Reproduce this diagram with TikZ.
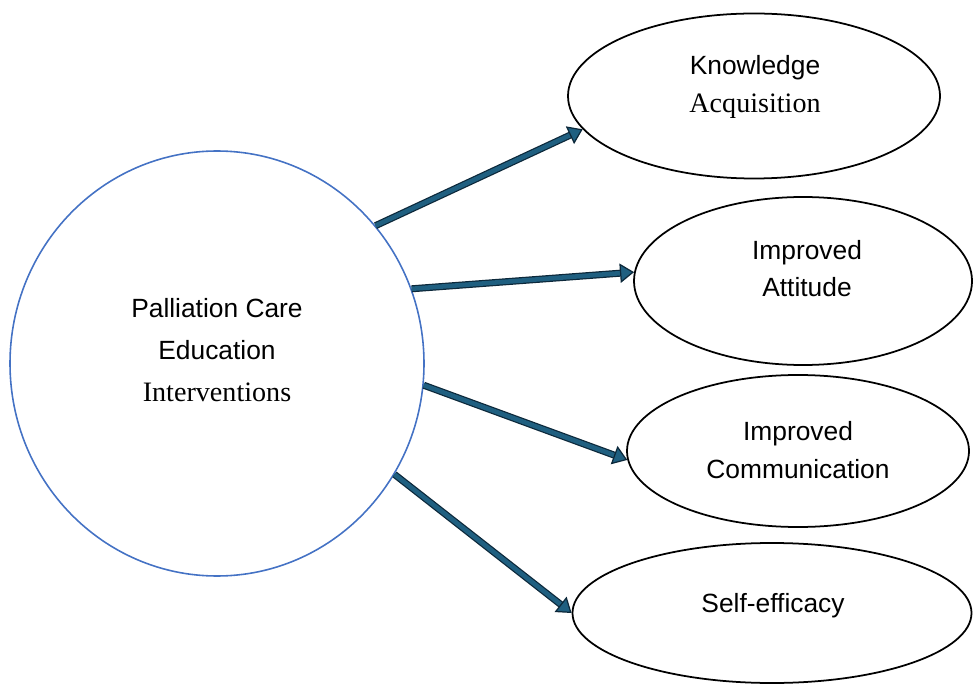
\documentclass[tikz,border=0pt]{standalone}
\usepackage{fontspec}
\setmainfont{Liberation Sans}
\newfontfamily\serifword{Liberation Serif}
\usetikzlibrary{arrows.meta,shapes.geometric}
\definecolor{hubblue}{RGB}{68,114,196}
\definecolor{arrowfill}{RGB}{31,95,128}
\definecolor{arrowedge}{RGB}{12,40,58}

\begin{document}
\begin{tikzpicture}[
	hub/.style={draw=hubblue,line width=.9pt,ellipse,inner sep=0,minimum width=8.28cm,minimum height=8.5cm},
	outcome/.style={draw,line width=1pt,ellipse,inner sep=0},
	caption/.style={align=center,font=\fontsize{15}{21.5}\selectfont},
	blockarrow/.style={draw=arrowedge,line width=.7pt,double=arrowfill,double distance=2.6pt,
		-{Triangle[length=8pt,width=11pt,fill=arrowfill,color=arrowedge,line width=.7pt]}}]
\useasboundingbox (0,0) rectangle (19.46,-13.72);
\node[hub] (hub) at (4.34,-7.27) {};
\node[outcome,minimum width=7.44cm,minimum height=3.30cm] (know) at (15.08,-1.92) {};
\node[outcome,minimum width=6.76cm,minimum height=3.36cm] (att) at (16.06,-5.62) {};
\node[outcome,minimum width=6.84cm,minimum height=3.04cm] (comm) at (15.96,-9.02) {};
\node[outcome,minimum width=7.98cm,minimum height=2.80cm] (self) at (15.44,-12.26) {};
\node[caption,font=\fontsize{15}{24}\selectfont] (hubtext) at (4.34,-7.0)
	{Palliation Care\\Education\\{\serifword\fontsize{16}{24}\selectfont Interventions}};
\node[caption] (knowtext) at (15.1,-1.74)
	{Knowledge\\{\serifword\fontsize{16}{21.5}\selectfont Acquisition}};
\node[caption] (atttext) at (16.14,-5.37) {Improved\\Attitude};
\node[caption] (commtext) at (15.96,-9.0) {Improved\\Communication};
\node[caption] (selftext) at (15.46,-12.12) {Self-efficacy};
\draw[blockarrow] (hub.41)--(know.191);
\draw[blockarrow] (hub.21)--(att.177);
\draw[blockarrow] (hub.-6)--(comm.183);
\draw[blockarrow] (hub.-32)--(self.180);
\end{tikzpicture}
\end{document}
